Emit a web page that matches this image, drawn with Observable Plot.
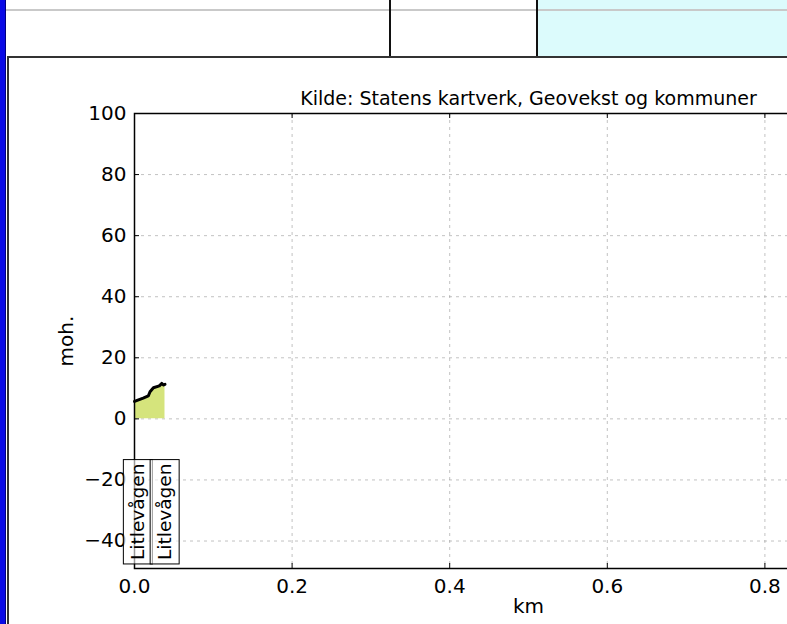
<!DOCTYPE html>
<html><head><meta charset="utf-8">
<script src="https://cdn.jsdelivr.net/npm/d3@7"></script>
<script src="https://cdn.jsdelivr.net/npm/@observablehq/plot@0.6"></script>
<style>
html,body{margin:0;padding:0;width:787px;height:624px;overflow:hidden;background:#fff;font-family:"DejaVu Sans",sans-serif}
.abs{position:absolute}
#blue{left:0;top:0;width:5px;height:624px;background:#0a0ae6;border-right:1px solid #000080}
#hline{left:6px;top:9px;width:781px;height:2px;background:#c9c9c9}
#cyan{left:538px;top:0;width:249px;height:57px;background:#dcfbfc}
#v1{left:389px;top:0;width:2px;height:57px;background:#111}
#v2{left:536px;top:0;width:2px;height:57px;background:#111}
#frameTop{left:8px;top:56px;width:779px;height:2px;background:#333}
#frameLeft{left:7px;top:56px;width:2px;height:568px;background:#333}
#chart{left:10px;top:60px;width:932px;height:564px}
#chart svg{max-width:none !important}
</style></head><body>
<div class="abs" id="cyan"></div>
<div class="abs" id="hline"></div>
<div class="abs" id="v1"></div>
<div class="abs" id="v2"></div>
<div class="abs" id="blue"></div>
<div class="abs" id="frameTop"></div>
<div class="abs" id="frameLeft"></div>
<div class="abs" id="chart"></div>
<script>
const distanceKm = [0.0, 0.011, 0.0175, 0.0197, 0.024, 0.0315, 0.0345, 0.0366, 0.0387];
const elevationM = [5.7, 6.8, 7.5, 8.9, 10.2, 10.8, 11.6, 11.1, 11.3];
const xTicks = [0, 0.2, 0.4, 0.6, 0.8];
const yTicks = [-40, -20, 0, 20, 40, 60, 80, 100];
const placeNames = ["Litlevågen", "Litlevågen"];
const placeKm = [0.005, 0.039];
const placeM = [-46.2, -46.2];
const sourceText = "Kilde: Statens kartverk, Geovekst og kommuner";
const xLabel = "km";
const yLabel = "moh.";

const profile = distanceKm.map((d, i) => ({km: d, m: elevationM[i]}));
const places = placeNames.map((n, i) => ({name: n, km: placeKm[i], m: placeM[i]}));

const W = 932, H = 564, mL = 124, mR = 20, mT = 53, mB = 56;
const fw = W - mL - mR, fh = H - mT - mB;

const chart = Plot.plot({
  width: W, height: H,
  marginLeft: mL, marginRight: mR, marginTop: mT, marginBottom: mB,
  style: {fontFamily: "DejaVu Sans, sans-serif", fontSize: "20px", color: "#000", background: "transparent", maxWidth: "none"},
  x: {domain: [0, 1]},
  y: {domain: [-49, 100]},
  marks: [
    Plot.gridX(xTicks, {stroke: "#999", strokeOpacity: 0.6, strokeDasharray: "3,4"}),
    Plot.gridY(yTicks, {stroke: "#999", strokeOpacity: 0.6, strokeDasharray: "3,4"}),
    Plot.areaY(profile, {x: "km", y: "m", fill: "#d5e47c"}),
    Plot.line(profile, {x: "km", y: "m", stroke: "#000", strokeWidth: 3}),
    Plot.frame({stroke: "#000", strokeWidth: 1.5}),
    Plot.tickX(xTicks, {x: d => d, insetTop: fh - 5, stroke: "#000"}),
    Plot.tickX(xTicks, {x: d => d, insetBottom: fh - 5, stroke: "#000"}),
    Plot.tickY(yTicks, {y: d => d, insetRight: fw - 5, stroke: "#000"}),
    Plot.tickY(yTicks, {y: d => d, insetLeft: fw - 5, stroke: "#000"}),
    Plot.axisX(xTicks, {tickSize: 0, tickPadding: 10, tickFormat: d3.format(".1f"), fontSize: 20,
      label: xLabel, labelAnchor: "center", labelArrow: "none", labelOffset: 44}),
    Plot.axisY(yTicks, {tickSize: 0, tickPadding: 8, tickFormat: d3.format("d"), fontSize: 20,
      label: yLabel, labelAnchor: "center", labelArrow: "none", labelOffset: 76}),
    Plot.text([sourceText], {frameAnchor: "top", dy: -9, lineAnchor: "bottom", fontSize: 19, fill: "#000"}),
    Plot.text(places, {x: "km", y: "m", text: "name", rotate: -90, textAnchor: "start", lineAnchor: "middle", fontSize: 18.5, fill: "#000"})
  ]
});
document.getElementById("chart").appendChild(chart);

// boxes around the place labels (semi-transparent, drawn beneath all labels)
const labelTexts = [...chart.querySelectorAll("text")].filter(t => placeNames.includes(t.textContent));
if (labelTexts.length) {
  const parent = labelTexts[0].parentNode;
  const first = parent.firstChild;
  labelTexts.forEach(t => {
    const b = t.getBBox();
    const pad = 4;
    const r = document.createElementNS("http://www.w3.org/2000/svg", "rect");
    r.setAttribute("x", b.x - pad);
    r.setAttribute("y", b.y - pad);
    r.setAttribute("width", b.width + 2 * pad);
    r.setAttribute("height", b.height + 2 * pad);
    const tr = t.getAttribute("transform");
    if (tr) r.setAttribute("transform", tr);
    r.setAttribute("fill", "#fff");
    r.setAttribute("fill-opacity", "0.6");
    r.setAttribute("stroke", "#000");
    r.setAttribute("stroke-width", "1");
    parent.insertBefore(r, first);
  });
}
</script>
</body></html>
